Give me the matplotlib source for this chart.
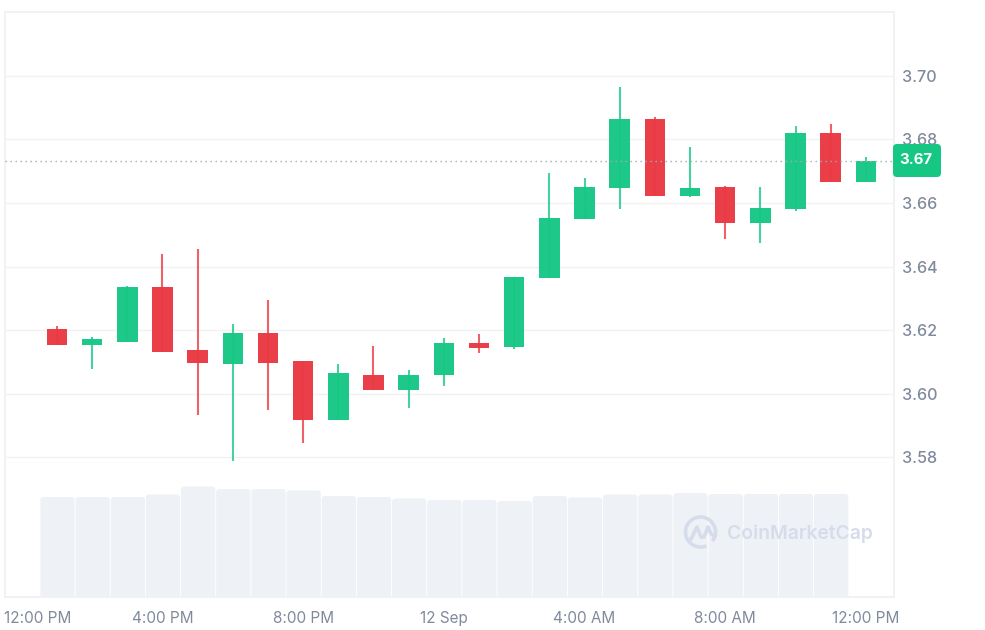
import matplotlib
matplotlib.use("Agg")
import matplotlib.pyplot as plt
from matplotlib.patches import FancyBboxPatch, Arc
from matplotlib.lines import Line2D

plt.rcParams['font.family'] = ['Inter', 'DejaVu Sans']

# Hours after 12:00 PM
hours = list(range(1, 25))
opens = [3.6205, 3.6153, 3.6163, 3.6336, 3.6138, 3.6093, 3.6192, 3.6103, 3.5917, 3.6058, 3.6011, 3.6058, 3.6160, 3.6147, 3.6364, 3.6550, 3.6648, 3.6863, 3.6623, 3.6652, 3.6537, 3.6581, 3.6821, 3.6666]
closes = [3.6153, 3.6171, 3.6336, 3.6132, 3.6096, 3.6192, 3.6098, 3.5917, 3.6064, 3.6011, 3.6058, 3.6161, 3.6145, 3.6367, 3.6552, 3.6651, 3.6863, 3.6623, 3.6648, 3.6537, 3.6584, 3.6821, 3.6666, 3.6733]
highs = [3.6214, 3.6179, 3.6340, 3.6440, 3.6455, 3.6221, 3.6296, 3.6103, 3.6095, 3.6151, 3.6076, 3.6176, 3.6189, 3.6367, 3.6696, 3.6680, 3.6965, 3.6870, 3.6777, 3.6655, 3.6652, 3.6843, 3.6850, 3.6745]
lows = [3.6153, 3.6077, 3.6163, 3.6132, 3.5933, 3.5788, 3.5948, 3.5844, 3.5917, 3.6011, 3.5955, 3.6025, 3.6129, 3.6140, 3.6364, 3.6550, 3.6582, 3.6623, 3.6620, 3.6486, 3.6473, 3.6575, 3.6666, 3.6666]
volumes = [100, 100, 100, 102.5, 110.5, 108, 108, 106.5, 101, 100, 98.5, 97, 97, 96, 101, 99.5, 102.5, 102.5, 104, 103, 103, 103, 103]
price_ticks = [3.58, 3.60, 3.62, 3.64, 3.66, 3.68, 3.70]
time_ticks = [0.46, 4, 8, 12, 16, 20, 24]
time_labels = ['12:00 PM', '4:00 PM', '8:00 PM', '12 Sep', '4:00 AM', '8:00 AM', '12:00 PM']
last_price = 3.6733
last_label = '3.67'

GREEN = '#16C784'
RED = '#EA3943'
GRID = '#F1F2F5'
TEXT = '#808A9D'
VOL = '#EEF1F5'
MARK = '#D6DCEB'

W, H = 985, 630
L, R, T, B = 5, 894, 12, 597
fig = plt.figure(figsize=(W / 100, H / 100), dpi=100, facecolor='white')
rect = [L / W, 1 - B / H, (R - L) / W, (B - T) / H]

# volume axis beneath
axv = fig.add_axes(rect, zorder=1)
ax = fig.add_axes(rect, zorder=2)
ax.patch.set_alpha(0)

xlim = (-0.478, 24.80)
ylim = (3.5361, 3.7201)
ax.set_xlim(xlim)
ax.set_ylim(ylim)
axv.set_xlim(xlim)
axv.set_ylim(0, B - T)
axv.set_xticks([])
axv.set_yticks([])
for s in axv.spines.values():
    s.set_visible(False)

px_per_hour = (R - L) / (xlim[1] - xlim[0])
for h, v in zip(hours, volumes):
    w = 34.2 / px_per_hour
    axv.add_patch(FancyBboxPatch((h + 0.5 / px_per_hour - w / 2, -10), w, v + 10,
                                 boxstyle=f"round,pad=0,rounding_size={3 / px_per_hour}",
                                 mutation_aspect=px_per_hour,
                                 facecolor=VOL, edgecolor='none', zorder=2))

# spines and grid
for name, s in ax.spines.items():
    s.set_color('#EEF0F3')
    s.set_linewidth(1.2)
ax.set_yticks(price_ticks)
ax.set_yticklabels([f"{p:.2f}" for p in price_ticks])
ax.set_xticks(time_ticks)
ax.set_xticklabels(time_labels)
ax.yaxis.tick_right()
ax.tick_params(axis='y', length=0, pad=5.5, labelsize=11.6, labelcolor=TEXT)
ax.tick_params(axis='x', length=0, pad=19, labelsize=11, labelcolor=TEXT)
for t in ax.get_yticklabels():
    t.set_fontweight('medium')
for t in ax.get_xticklabels():
    t.set_verticalalignment('baseline')
ax.grid(axis='y', color=GRID, linewidth=1.0, zorder=0)
ax.set_axisbelow(True)

# watermark
trans = fig.transFigure
def fx(x): return x / W
def fy(y): return 1 - y / H
logo_w, logo_h = 30 / W, 30 / H
fig.add_artist(Arc((fx(700.5), fy(532)), logo_w, logo_h, theta1=-50, theta2=285,
                   transform=trans, color=MARK, linewidth=2.6, zorder=3))
fig.add_artist(Line2D([fx(x) for x in (691, 697, 701, 704, 708, 711, 715)],
                      [fy(y) for y in (539, 527, 537, 537, 527, 534, 536)],
                      transform=trans, color=MARK, linewidth=2.6, zorder=3))
fig.text(fx(727), fy(533.5), 'CoinMarketCap', color=MARK, fontsize=13.9, fontweight='semibold',
         va='center', ha='left', zorder=3)

# candles
body_w = 20.5 / px_per_hour
for h, o, c, hi, lo in zip(hours, opens, closes, highs, lows):
    col = GREEN if c >= o else RED
    ax.vlines(h, lo, hi, color=col, linewidth=1.5, alpha=0.8, zorder=4)
    ax.bar(h, abs(c - o), bottom=min(o, c), width=body_w, color=col, alpha=0.97,
           edgecolor='none', zorder=5)

# last price
ax.axhline(last_price, color='#A6ABB5', linewidth=1.0, linestyle=(0, (1, 2.6)), zorder=6)
fig.add_artist(FancyBboxPatch((fx(893), fy(177)), 48 / W, 33 / H,
                              boxstyle=f"round,pad=0,rounding_size={4 / W}",
                              mutation_aspect=W / H, transform=trans,
                              facecolor=GREEN, edgecolor='none', zorder=8))
fig.text(fx(916), fy(160.5), last_label, color='white', fontsize=10.8, fontweight='bold',
         va='center', ha='center', zorder=9)

fig.savefig('out.png', dpi=100, facecolor='white')
